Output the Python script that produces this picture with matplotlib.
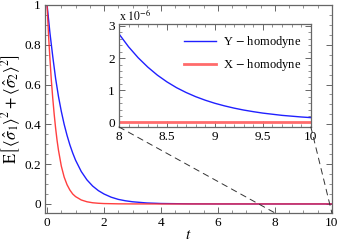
import matplotlib
matplotlib.use("Agg")
import matplotlib.pyplot as plt
from matplotlib.ticker import MultipleLocator, FuncFormatter
from matplotlib.patches import ConnectionPatch

plt.rcParams['font.family'] = ['Liberation Serif', 'DejaVu Serif']
plt.rcParams['mathtext.fontset'] = 'stix'

# main panel, values
t_y = [0, 0.1, 0.2, 0.3, 0.4, 0.5, 0.6, 0.7, 0.8, 0.9, 1.0, 1.2, 1.4, 1.6, 1.8,
       2.0, 2.25, 2.5, 2.75, 3.0, 3.5, 4.0, 5, 6, 7, 8, 9, 10]
y_hom = [1.0, 0.86, 0.74, 0.63, 0.54, 0.465, 0.40, 0.345, 0.297, 0.256, 0.22,
         0.163, 0.121, 0.09, 0.067, 0.05, 0.034, 0.023, 0.016, 0.011, 0.005,
         0.0023, 0.0005, 0.0001, 2e-5, 2.8e-6, 6e-7, 1.5e-7]

t_x = [0, 0.05, 0.1, 0.15, 0.2, 0.25, 0.3, 0.35, 0.4, 0.45, 0.5, 0.6, 0.7, 0.8,
       0.9, 1.0, 1.2, 1.4, 1.6, 1.8, 2.0, 2.5, 3.0, 4.0, 10]
x_hom = [1.0, 0.85, 0.73, 0.62, 0.53, 0.45, 0.38, 0.32, 0.27, 0.23, 0.19, 0.135,
         0.097, 0.07, 0.05, 0.037, 0.02, 0.011, 0.006, 0.0035, 0.002, 0.0006,
         0.0002, 0.0, 0.0]

# inset (units of 1e-6)
t_zoom = [8.0, 8.1, 8.2, 8.3, 8.4, 8.5, 8.6, 8.7, 8.8, 8.9, 9.0, 9.1, 9.2, 9.3,
          9.4, 9.5, 9.6, 9.7, 9.8, 9.9, 10.0]
y_zoom = [2.75, 2.35, 2.01, 1.72, 1.47, 1.26, 1.08, 0.93, 0.80, 0.69, 0.595,
          0.515, 0.445, 0.385, 0.335, 0.29, 0.255, 0.22, 0.195, 0.17, 0.15]
x_zoom = [0.0] * len(t_zoom)

blue = '#2020ff'
red_main = '#ff2a2a'
red_light = '#ff6b6b'
frame = '#666666'


def style(ax):
    for s in ax.spines.values():
        s.set_color(frame)
        s.set_linewidth(0.9)
    ax.tick_params(which='both', direction='in', top=True, right=True,
                   colors=frame, labelcolor='black', labelsize=9.5, pad=3)
    ax.tick_params(which='major', length=4, width=0.7)
    ax.tick_params(which='minor', length=2, width=0.5)


def fmt(v, pos):
    if abs(v - round(v)) < 1e-9:
        return '%d' % round(v)
    return ('%.1f' % v)


fig = plt.figure(figsize=(3.39, 2.47), dpi=100)
ax = fig.add_axes([0.133, 0.138, 0.846, 0.842])
ax.plot(t_y, y_hom, color=blue, lw=1.0)
ax.plot(t_x, x_hom, color=red_main, lw=1.0, alpha=0.9)
ax.set_xlim(-0.07, 10)
ax.set_ylim(-0.045, 1.0)
ax.xaxis.set_major_locator(MultipleLocator(2))
ax.xaxis.set_minor_locator(MultipleLocator(0.5))
ax.yaxis.set_major_locator(MultipleLocator(0.2))
ax.yaxis.set_minor_locator(MultipleLocator(0.05))
ax.xaxis.set_major_formatter(FuncFormatter(fmt))
ax.yaxis.set_major_formatter(FuncFormatter(fmt))
style(ax)
ax.set_xlabel(r'$t$', fontsize=11, labelpad=0)
ax.set_ylabel(r'$\mathrm{E}\left[\,\langle\hat{\sigma}_1\rangle^2+\langle\hat{\sigma}_2\rangle^2\right]$',
              fontsize=12, labelpad=1)

ins = fig.add_axes([0.351, 0.486, 0.566, 0.417])
ins.plot(t_zoom, y_zoom, color=blue, lw=1.0, label=r'Y $-$ homodyne')
ins.plot(t_zoom, x_zoom, color=red_light, lw=2.0, label=r'X $-$ homodyne')
ins.set_xlim(8, 10)
ins.set_ylim(-0.14, 3.06)
ins.xaxis.set_major_locator(MultipleLocator(0.5))
ins.xaxis.set_minor_locator(MultipleLocator(0.1))
ins.yaxis.set_major_locator(MultipleLocator(1))
ins.yaxis.set_minor_locator(MultipleLocator(0.2))
ins.xaxis.set_major_formatter(FuncFormatter(fmt))
ins.yaxis.set_major_formatter(FuncFormatter(fmt))
style(ins)
ins.text(0.0, 1.01, r'x $10^{-6}$', transform=ins.transAxes, fontsize=8.5,
         ha='left', va='bottom')
ins.legend(loc='upper right', frameon=False, fontsize=9, handlelength=2.6,
           handletextpad=0.5, borderaxespad=0.4, labelspacing=0.6)

for xa in (8, 10):
    con = ConnectionPatch(xyA=(xa, -0.14), coordsA=ins.transData,
                          xyB=(xa, -0.045), coordsB=ax.transData,
                          color='#333333', lw=0.7, linestyle=(0, (6, 5)))
    fig.add_artist(con)

fig.savefig('out.png', dpi=100)
